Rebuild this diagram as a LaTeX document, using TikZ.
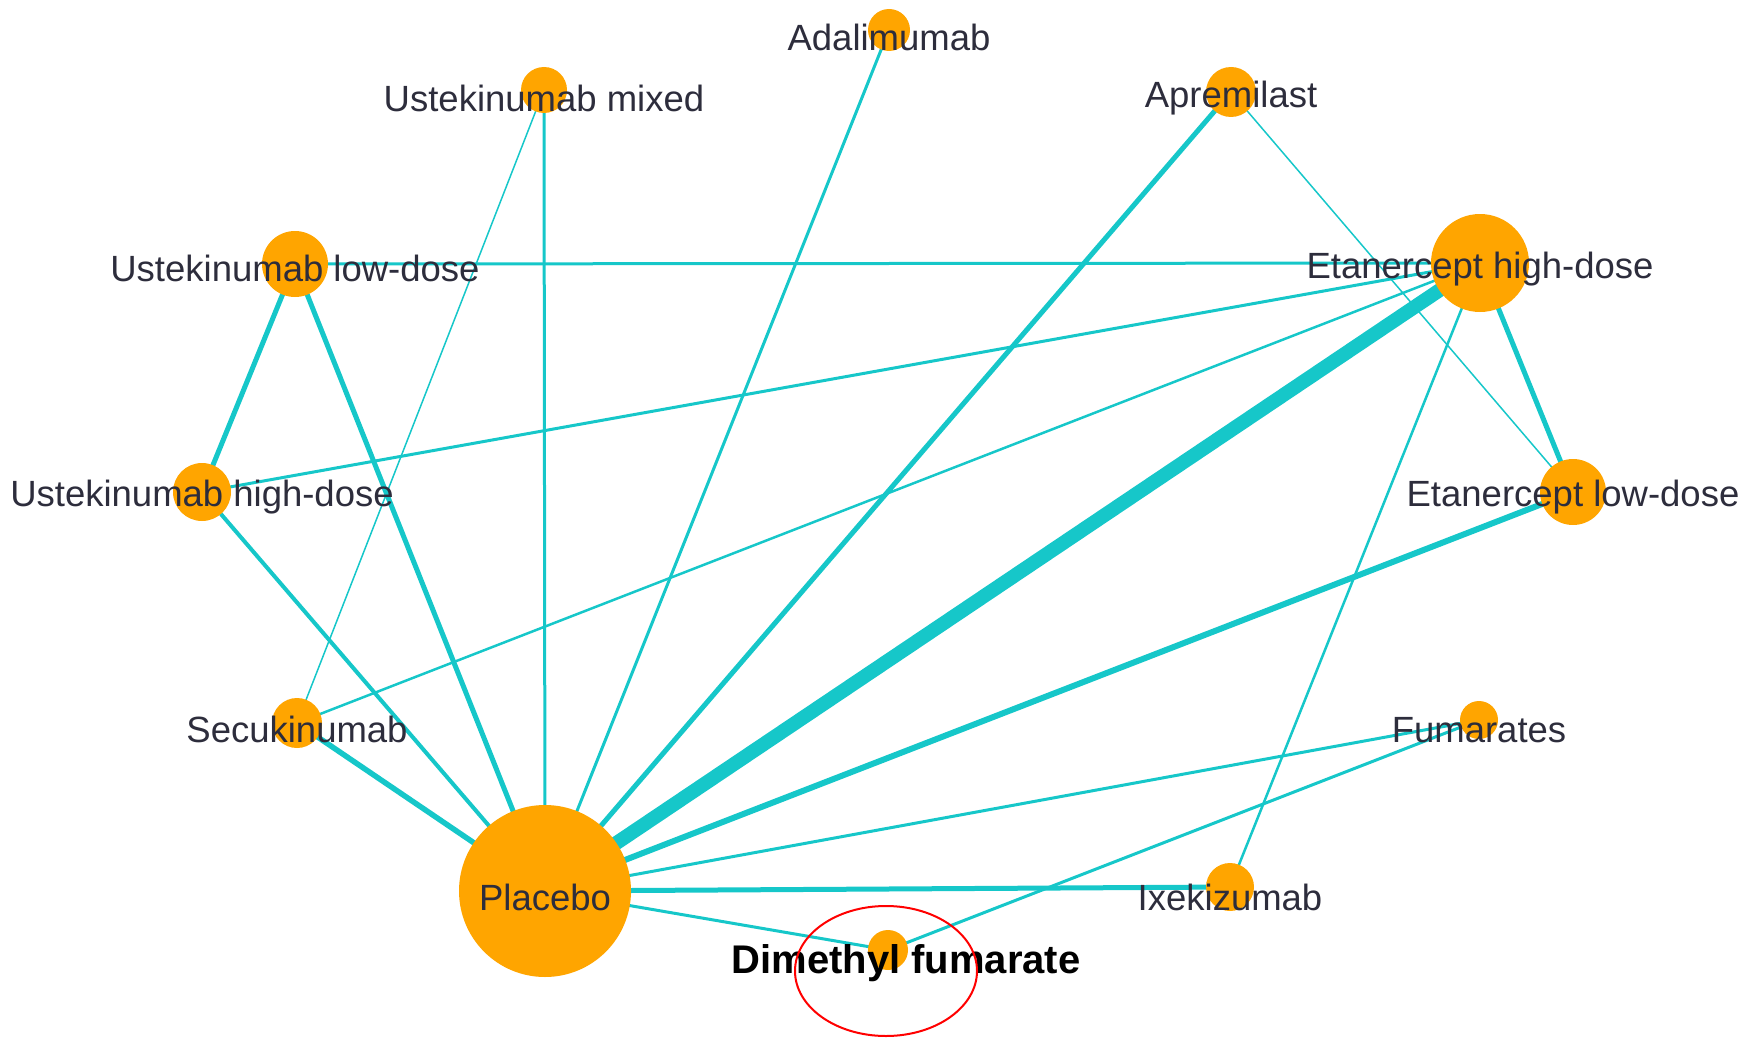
\documentclass[tikz,border=0pt]{standalone}
\usepackage{fontspec}
\setmainfont{Liberation Sans}
\usetikzlibrary{backgrounds,shapes.geometric}
\definecolor{edgec}{RGB}{22,199,201}
\definecolor{nodec}{RGB}{255,165,0}
\definecolor{labc}{RGB}{45,45,60}
\begin{document}
\begin{tikzpicture}[x=1pt,y=-1pt,
  vtx/.style={circle, fill=nodec, inner sep=0pt, minimum size=#1},
  lab/.style={anchor=base, inner sep=0pt, text=labc, font=\fontsize{36.5}{40}\selectfont},
  link/.style={draw=edgec, line width=#1},
]
\useasboundingbox (0,0) rectangle (1756,1038);
% vertices
\node[vtx=42pt] (ada) at (889,30) {};
\node[vtx=46pt] (ustmix) at (544,90) {};
\node[vtx=50pt] (apre) at (1231,92) {};
\node[vtx=66pt] (ustl) at (295,264) {};
\node[vtx=98pt] (etah) at (1480,263) {};
\node[vtx=58pt] (usth) at (202,492) {};
\node[vtx=66pt] (etal) at (1573,492) {};
\node[vtx=50pt] (secu) at (297,723) {};
\node[vtx=38pt] (fum) at (1479,720) {};
\node[vtx=172pt] (pla) at (545,891) {};
\node[vtx=48pt] (ixe) at (1230,887) {};
\node[vtx=40pt] (dmf) at (888,950) {};
% connectors
\begin{pgfonlayer}{background}
\draw[link=3pt] (ustmix.center) -- (pla.center);
\draw[link=1.5pt] (ustmix.center) -- (secu.center);
\draw[link=3pt] (ada.center) -- (pla.center);
\draw[link=5pt] (apre.center) -- (pla.center);
\draw[link=1.5pt] (apre.center) -- (etal.center);
\draw[link=3pt] (ustl.center) -- (etah.center);
\draw[link=5pt] (ustl.center) -- (usth.center);
\draw[link=5pt] (ustl.center) -- (pla.center);
\draw[link=3pt] (usth.center) -- (etah.center);
\draw[link=4pt] (usth.center) -- (pla.center);
\draw[link=2.5pt] (secu.center) -- (etah.center);
\draw[link=5.5pt] (secu.center) -- (pla.center);
\draw[link=14pt] (etah.center) -- (pla.center);
\draw[link=5pt] (etah.center) -- (etal.center);
\draw[link=2.5pt] (etah.center) -- (ixe.center);
\draw[link=6pt] (etal.center) -- (pla.center);
\draw[link=3pt] (fum.center) -- (pla.center);
\draw[link=3pt] (fum.center) -- (dmf.center);
\draw[link=5pt] (pla.center) -- (ixe.center);
\draw[link=3pt] (pla.center) -- (dmf.center);
\end{pgfonlayer}
% labels
\node[lab] (lada) at (889,51) {Adalimumab};
\node[lab] (lustmix) at (544,112) {Ustekinumab mixed};
\node[lab] (lapre) at (1231,108) {Apremilast};
\node[lab] (lustl) at (295,281) {Ustekinumab low-dose};
\node[lab] (letah) at (1480,278) {Etanercept high-dose};
\node[lab] (lusth) at (202,506) {Ustekinumab high-dose};
\node[lab] (letal) at (1573,506) {Etanercept low-dose};
\node[lab] (lsecu) at (297,742) {Secukinumab};
\node[lab] (lfum) at (1479,742) {Fumarates};
\node[lab] (lpla) at (545,910) {Placebo};
\node[lab] (lixe) at (1230,910) {Ixekizumab};
\node[lab, text=black, font=\bfseries\fontsize{40}{44}\selectfont] (ldmf) at (906,973) {Dimethyl fumarate};
% highlight ring
\node[draw=red, line width=2pt, ellipse, inner sep=0pt, minimum width=182pt, minimum height=130pt] (ring) at (886,971) {};
\end{tikzpicture}
\end{document}
